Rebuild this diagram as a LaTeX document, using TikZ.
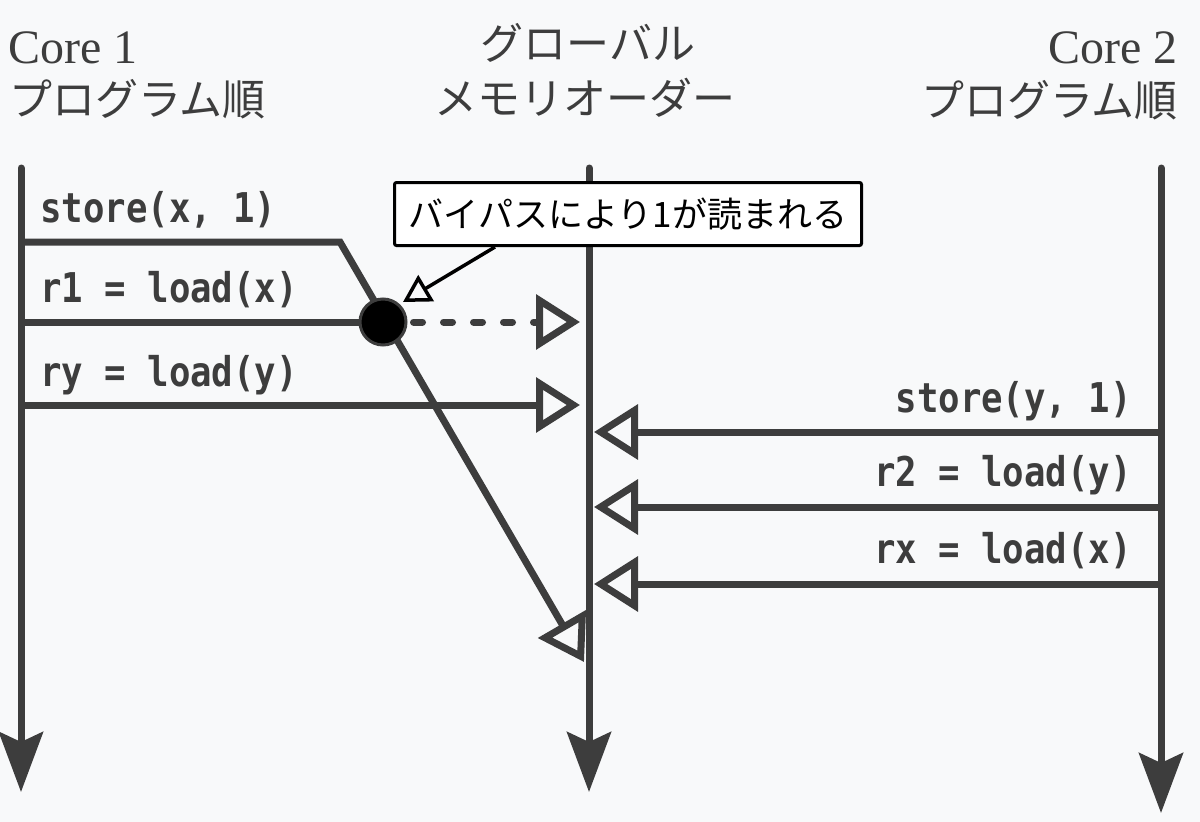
\documentclass[tikz,border=0pt]{standalone}
\usepackage{fontspec}
\setmainfont{Liberation Serif}
\newfontfamily\jpfont{Noto Sans CJK JP}
\newfontfamily\codefont[FakeStretch=0.87]{DejaVu Sans Mono}
\usetikzlibrary{arrows.meta}
\definecolor{ink}{HTML}{3D3D3D}
\definecolor{bgc}{HTML}{F8F9FA}
\begin{document}
\begin{tikzpicture}[x=1pt,y=-1pt,
  life/.style={ink, line width=7pt, line cap=round, -{Stealth[length=60pt,width=44pt,inset=10pt]}},
  msg/.style={ink, line width=7pt, -{Triangle[open,length=44pt,width=54pt]}},
  code/.style={ink, inner sep=0pt, font=\codefont\bfseries\fontsize{41}{41}\selectfont},
  latin/.style={ink, inner sep=0pt, font=\fontsize{48}{48}\selectfont},
  jp/.style={ink, inner sep=0pt, font=\jpfont\fontsize{43}{43}\selectfont}]
\path[fill=bgc] (0,0) rectangle (1200,822);
\useasboundingbox (0,0) rectangle (1200,822);

% headers
\node[latin, anchor=base west] (c1) at (8,63) {Core 1};
\node[jp, anchor=base west] (p1) at (9,115) {プログラム順};
\node[jp, anchor=base] (g1) at (588,59) {グローバル};
\node[jp, anchor=base] (g2) at (585,114) {メモリオーダー};
\node[latin, anchor=base east] (c2) at (1178,63) {Core 2};
\node[jp, anchor=base east] (p2) at (1178,116) {プログラム順};

% lifelines
\coordinate (Lt) at (21,168);  \coordinate (Lb) at (21,792);
\coordinate (Mt) at (589,168); \coordinate (Mb) at (589,792);
\coordinate (Rt) at (1161,168); \coordinate (Rb) at (1161,813);
\draw[life] (Lt) -- (Lb);
\draw[life] (Mt) -- (Mb);
\draw[life] (Rt) -- (Rb);

% core 1 messages
\coordinate (s1) at (21,242); \coordinate (s1k) at (340,242); \coordinate (s1e) at (584,662);
\draw[msg, line join=miter] (s1) -- (s1k) -- (s1e);
\coordinate (r1) at (21,322); \coordinate (r1e) at (580,322);
\coordinate (ry) at (21,405); \coordinate (rye) at (580,405);
\draw[msg] (ry) -- (rye);

\node (dot) [circle, fill=black, draw=ink, line width=3pt, minimum size=46pt, inner sep=0pt] at (383,322) {};
\draw[ink, line width=7pt] (r1) -- (dot.west);
\draw[msg, dash pattern=on 9pt off 21pt, line cap=round] ([xshift=6pt]dot.east) -- (r1e);

\node[code, anchor=base west] (t1) at (40,222) {store(x, 1)};
\node[code, anchor=base west] (t2) at (40,302) {r1 = load(x)};
\node[code, anchor=base west] (t3) at (40,386) {ry = load(y)};

% core 2 messages
\coordinate (q1) at (1161,432); \coordinate (q1e) at (594,432);
\coordinate (q2) at (1161,507); \coordinate (q2e) at (594,507);
\coordinate (q3) at (1161,584); \coordinate (q3e) at (594,584);
\draw[msg] (q1) -- (q1e);
\draw[msg] (q2) -- (q2e);
\draw[msg] (q3) -- (q3e);
\node[code, anchor=base east] (u1) at (1132,412) {store(y, 1)};
\node[code, anchor=base east] (u2) at (1132,486) {r2 = load(y)};
\node[code, anchor=base east] (u3) at (1132,563) {rx = load(x)};

% callout
\node (cb) [draw=black, fill=white, line width=3pt, rounded corners=2pt,
  minimum width=467pt, minimum height=63pt, inner sep=0pt,
  font=\jpfont\fontsize{35}{35}\selectfont] at (628,214) {バイパスにより1が読まれる};
\coordinate (ct) at (403,302);
\draw[black, line width=3.5pt, -{Triangle[open,length=27pt,width=30pt]}] ([xshift=102pt]cb.south west) -- (ct);
\end{tikzpicture}
\end{document}
